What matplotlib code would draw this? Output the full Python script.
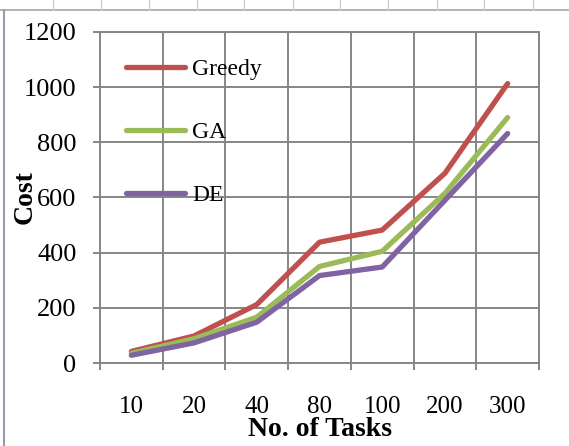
import matplotlib
matplotlib.use("Agg")
import matplotlib.pyplot as plt
from matplotlib.lines import Line2D

plt.rcParams['font.family'] = ['Liberation Serif', 'DejaVu Serif']

tasks = ['10', '20', '40', '80', '100', '200', '300']
greedy = [42, 98, 212, 438, 482, 688, 1013]
ga = [35, 88, 166, 350, 405, 615, 890]
de = [28, 73, 148, 317, 348, 590, 832]

W, H = 569, 446
fig = plt.figure(figsize=(W / 100, H / 100), dpi=100)

# spreadsheet-ish frame around the chart object
fig.add_artist(Line2D([0, 1], [1 - 10 / H, 1 - 10 / H], color='#a6a6a6', lw=1.2))
fig.add_artist(Line2D([3.5 / W, 3.5 / W], [0, 1 - 10 / H], color='#9a9ab0', lw=1.5))
for cx in [52.6, 100.5, 148.8, 196.7, 244, 292.5, 340, 388, 436.5, 484, 532.6]:
    fig.add_artist(Line2D([cx / W, cx / W], [1 - 10 / H, 1], color='#c8c8c8', lw=0.8))

ax = fig.add_axes([100 / W, 1 - 363 / H, 439 / W, 331 / H])

x = list(range(len(tasks)))
ax.plot(x, greedy, color='#C0504D', lw=3.8, solid_capstyle='round', solid_joinstyle='round', label='Greedy')
ax.plot(x, ga, color='#9BBB59', lw=3.8, solid_capstyle='round', solid_joinstyle='round', label='GA')
ax.plot(x, de, color='#8064A2', lw=3.8, solid_capstyle='round', solid_joinstyle='round', label='DE')

ax.set_xlim(-0.5, len(tasks) - 0.5)
ax.set_ylim(0, 1200)
ax.set_yticks(range(0, 1201, 200))
ax.set_xticks([i - 0.5 for i in range(len(tasks) + 1)])
ax.set_xticklabels([])
ax.set_xticks(x, minor=True)
ax.set_xticklabels(tasks, minor=True)

grid_c = '#868686'
ax.grid(True, which='major', color=grid_c, lw=1.4)
ax.set_axisbelow(True)
for s in ax.spines.values():
    s.set_color(grid_c)
    s.set_linewidth(1.4)

ax.tick_params(axis='y', which='major', length=5, width=1.4, color=grid_c, labelsize=19, pad=12)
ax.tick_params(axis='x', which='major', length=5, width=1.4, color=grid_c)
ax.tick_params(axis='x', which='minor', length=0, labelsize=18, pad=24)

ax.set_xlabel('No. of Tasks', fontsize=20, fontweight='bold', labelpad=-1)
ax.set_ylabel('Cost', fontsize=20, fontweight='bold', labelpad=-10)

ax.legend(loc='upper left', bbox_to_anchor=(0.06, 0.919), frameon=False,
          fontsize=17, handlelength=2.5, handletextpad=0.3, labelspacing=1.75,
          borderaxespad=0, borderpad=0)

fig.savefig('out.png', dpi=100)
